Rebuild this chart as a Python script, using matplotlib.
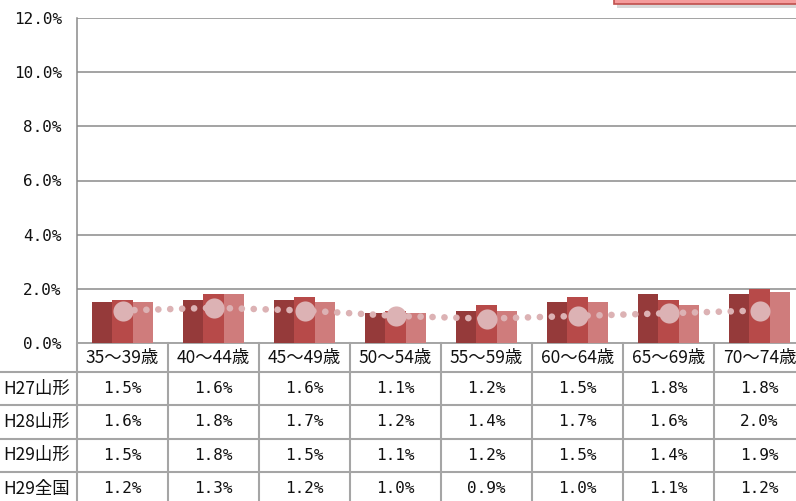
import matplotlib.pyplot as plt
from matplotlib.patches import Rectangle

plt.rcParams['font.family'] = ['Noto Sans CJK JP', 'DejaVu Sans']

# データ
categories = ['35〜39歳', '40〜44歳', '45〜49歳', '50〜54歳',
              '55〜59歳', '60〜64歳', '65〜69歳', '70〜74歳']
series_names = ['H27山形', 'H28山形', 'H29山形', 'H29全国']
h27 = [1.5, 1.6, 1.6, 1.1, 1.2, 1.5, 1.8, 1.8]
h28 = [1.6, 1.8, 1.7, 1.2, 1.4, 1.7, 1.6, 2.0]
h29 = [1.5, 1.8, 1.5, 1.1, 1.2, 1.5, 1.4, 1.9]
zenkoku = [1.2, 1.3, 1.2, 1.0, 0.9, 1.0, 1.1, 1.2]
yticks = [0, 2, 4, 6, 8, 10, 12]

bar_colors = ['#953a3a', '#b74a49', '#cf7c7c']
dot_color = '#dcb2b4'
grid_color = '#8a8a8a'
table_color = '#a5a5a5'
num_font = ['DejaVu Sans Mono', 'Noto Sans CJK JP']

W, H = 796, 501
fig = plt.figure(figsize=(W / 100, H / 100), dpi=100)

# グラフ領域 (px)
x0, cw, top, base = 77, 91, 18, 343
ax = fig.add_axes([x0 / W, (H - base) / H, cw * len(categories) / W, (base - top) / H])
ax.set_xlim(-0.5, len(categories) - 0.5)
ax.set_ylim(0, 12)

xs = list(range(len(categories)))
bw = 0.22
for k, vals in enumerate([h27, h28, h29]):
    ax.bar([x + (k - 1) * bw for x in xs], vals, width=bw, color=bar_colors[k],
           edgecolor='none', zorder=3, label=series_names[k])

lw = 4.8
ax.plot(xs, zenkoku, color=dot_color, lw=lw, linestyle=(0, (0.01, 1.78)),
        dash_capstyle='round', solid_capstyle='round', zorder=4)
ax.plot(xs, zenkoku, linestyle='none', marker='o', markersize=14.5,
        color=dot_color, markeredgecolor='none', zorder=5, label=series_names[3])

ax.set_yticks(yticks)
ax.set_yticklabels([f'{v:.1f}%' for v in yticks], fontsize=11.5, color='#111111',
                   family=num_font)
ax.tick_params(axis='y', length=0, pad=11)
ax.set_xticks([])
ax.grid(axis='y', color=grid_color, lw=1.1, zorder=0)
for s in ['top', 'right']:
    ax.spines[s].set_visible(False)
ax.spines['left'].set_color(grid_color)
ax.spines['left'].set_linewidth(1.1)
ax.spines['bottom'].set_color(table_color)
ax.spines['bottom'].set_linewidth(1.4)

# データテーブル (px座標)
tb = fig.add_axes([0, 0, 1, 1])
tb.set_xlim(0, W)
tb.set_ylim(H, 0)
tb.axis('off')

header_bottom = 372
row_h = 33.3
n = len(categories)
for i, c in enumerate(categories):
    tb.text(x0 + cw * (i + 0.5), (base + header_bottom) / 2 + 1, c, ha='center', va='center',
            fontsize=12.5, color='#111111')

rows = [h27, h28, h29, zenkoku]
for r, (name, vals) in enumerate(zip(series_names, rows)):
    yc = header_bottom + row_h * (r + 0.5)
    tb.text(3, yc, name, ha='left', va='center', fontsize=12.5, color='#111111')
    for i, v in enumerate(vals):
        tb.text(x0 + cw * (i + 0.5), yc, f'{v:.1f}%', ha='center', va='center',
                fontsize=11.5, color='#111111', family=num_font)

for r in range(len(rows)):
    y = header_bottom + row_h * r
    tb.plot([0, W], [y, y], color=table_color, lw=1.5)
for i in range(n + 1):
    x = x0 + cw * i
    tb.plot([x, x], [base, H + 5], color=table_color, lw=1.5)

# 右上の図形 (見切れ)
tb.add_patch(Rectangle((617, -12), 190, 20, facecolor='#d8d8d8', edgecolor='none', zorder=1))
tb.add_patch(Rectangle((614, -14), 190, 18, facecolor='#f59c9c', edgecolor='#c0504d',
                       lw=1.2, zorder=2))

fig.savefig('out.png', dpi=100)
